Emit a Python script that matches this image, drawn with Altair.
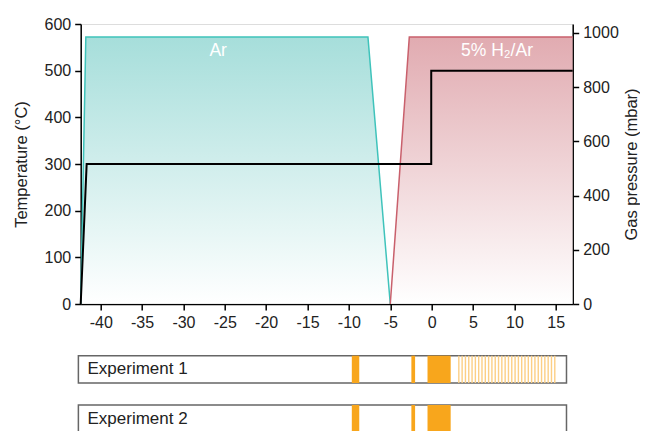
import altair as alt
import pandas as pd

# ---- data ----
temp_time = [-42.42, -41.7, -0.05, -0.05, 17.05]
temp_value = [0, 300, 300, 500, 500]

ar_time = [-42.42, -41.8, -7.7, -5.0]
ar_pressure = [0, 985, 985, 0]

h2_time = [-5.0, -2.7, 17.05]
h2_pressure = [0, 985, 985]

gas_labels = ["Ar", "5% H₂/Ar"]
gas_label_time = [-25.8, 7.9]
gas_label_pressure = [935, 935]

experiments = ["Experiment 1", "Experiment 2"]
box_start = [-42.7, -42.7]
box_end = [16.3, 16.3]

pulse_exp = ["Experiment 1"] * 3 + ["Experiment 2"] * 3
pulse_start = [-9.65, -2.45, -0.5, -9.65, -2.45, -0.5]
pulse_end = [-8.75, -2.0, 2.3, -8.75, -2.0, 2.3]

stripe_time = [3.2, 3.6, 4.0, 4.4, 4.8, 5.2, 5.6, 6.0, 6.4, 6.8, 7.2, 7.6,
               8.0, 8.4, 8.8, 9.2, 9.6, 10.0, 10.4, 10.8, 11.2, 11.6, 12.0,
               12.4, 12.8, 13.2, 13.6, 14.0, 14.4, 14.8]

x_domain = [-42.42, 17.05]
x_ticks = [-40, -35, -30, -25, -20, -15, -10, -5, 0, 5, 10, 15]
temp_ticks = [0, 100, 200, 300, 400, 500, 600]
pres_ticks = [0, 200, 400, 600, 800, 1000]

FONT = "Liberation Sans"

temp_df = pd.DataFrame({"t": temp_time, "T": temp_value})
ar_df = pd.DataFrame({"t": ar_time, "p": ar_pressure})
h2_df = pd.DataFrame({"t": h2_time, "p": h2_pressure})
lab_df = pd.DataFrame({"t": gas_label_time, "p": gas_label_pressure, "txt": gas_labels})
box_df = pd.DataFrame({"exp": experiments, "t0": box_start, "t1": box_end})
pulse_df = pd.DataFrame({"exp": pulse_exp, "t0": pulse_start, "t1": pulse_end})
stripe_df = pd.DataFrame({"exp": ["Experiment 1"] * len(stripe_time), "t": stripe_time})

common_axis = dict(grid=False, tickSize=6, labelPadding=4, domainColor="black",
                   tickColor="black", domainWidth=1.5, tickWidth=1.5,
                   labelFontSize=16, labelColor="#222", labelFont=FONT,
                   labelExpr="datum.value + ''")

xscale = alt.Scale(domain=x_domain, nice=False, zero=False)
xaxis = alt.Axis(values=x_ticks, title=None, labelFlush=False, **common_axis)

pscale = alt.Scale(domain=[0, 1033], nice=False)
paxis = alt.Axis(orient="right", values=pres_ticks, title="Gas pressure (mbar)",
                 titleFontSize=16.5, titleFontWeight="normal", titleColor="#222",
                 titleFont=FONT, titleAngle=270, titleBaseline="top",
                 titlePadding=5, **common_axis)

teal_grad = alt.Gradient(gradient="linear",
                         stops=[alt.GradientStop(color="#ffffff", offset=0),
                                alt.GradientStop(color="#80d0cb", offset=1)],
                         x1=1, x2=1, y1=1, y2=0)
red_grad = alt.Gradient(gradient="linear",
                        stops=[alt.GradientStop(color="#ffffff", offset=0),
                               alt.GradientStop(color="#d4878f", offset=1)],
                        x1=1, x2=1, y1=1, y2=0)

ar_area = alt.Chart(ar_df).mark_area(
    color=teal_grad, line={"color": "#3fc3bb", "strokeWidth": 1.5}
).encode(
    x=alt.X("t:Q", scale=xscale, axis=xaxis),
    y=alt.Y("p:Q", scale=pscale, axis=paxis),
)
h2_area = alt.Chart(h2_df).mark_area(
    color=red_grad, line={"color": "#c9606c", "strokeWidth": 1.5}
).encode(x=alt.X("t:Q"), y=alt.Y("p:Q"))
gas_text = alt.Chart(lab_df).mark_text(
    color="white", fontSize=17.5, font=FONT
).encode(x="t:Q", y="p:Q", text="txt:N")

pressure_layer = alt.layer(ar_area, h2_area, gas_text)

tscale = alt.Scale(domain=[0, 600], nice=False)
taxis = alt.Axis(orient="left", values=temp_ticks, title="Temperature (°C)",
                 titleFontSize=16.5, titleFontWeight="normal", titleColor="#222",
                 titleFont=FONT, titlePadding=15, **common_axis)
temp_line = alt.Chart(temp_df).mark_line(color="black", strokeWidth=2).encode(
    x=alt.X("t:Q"), y=alt.Y("T:Q", scale=tscale, axis=taxis)
)

escale = alt.Scale(domain=experiments, range=[331.7, 408.3],
                   paddingInner=0.446, paddingOuter=0)
boxes = alt.Chart(box_df).mark_rect(
    fill="white", stroke="#666666", strokeWidth=1.5
).encode(x="t0:Q", x2="t1:Q", y=alt.Y("exp:N", scale=escale, axis=None))
pulses = alt.Chart(pulse_df).mark_rect(color="#f8a61c").encode(
    x="t0:Q", x2="t1:Q", y=alt.Y("exp:N")
)
stripes = alt.Chart(stripe_df).transform_calculate(
    t1="datum.t + 0.17"
).mark_rect(color="#fccf85").encode(x="t:Q", x2="t1:Q", y=alt.Y("exp:N"))
exp_text = alt.Chart(box_df).transform_calculate(tx="datum.t0 + 1.1").mark_text(
    align="left", fontSize=17, font=FONT, color="#222"
).encode(x="tx:Q", y=alt.Y("exp:N"), text="exp:N")
exp_layer = alt.layer(boxes, pulses, stripes, exp_text)

chart = alt.layer(pressure_layer, temp_line, exp_layer).resolve_scale(
    y="independent"
).properties(
    width=492, height=280,
    autosize=alt.AutoSizeParams(type="none"),
    padding={"left": 72.7, "top": 16, "right": 67.3, "bottom": 127},
).configure_view(stroke=None).configure(background="white")

chart.save("out.html", embed_options={"renderer": "svg", "actions": False})
